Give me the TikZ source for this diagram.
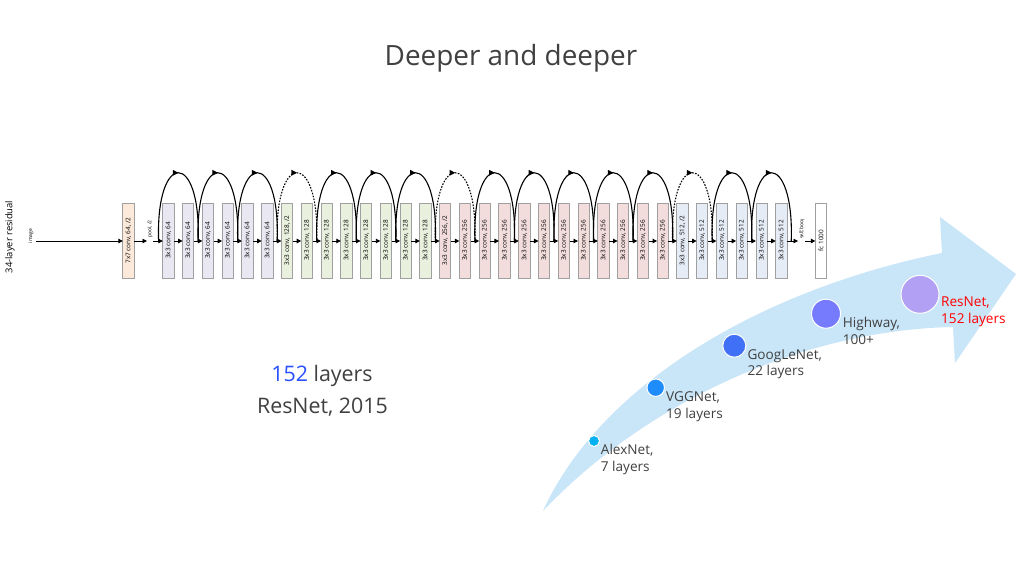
\documentclass[tikz,border=0pt]{standalone}
\usepackage{fontspec}
\setmainfont{Open Sans}
\usetikzlibrary{arrows.meta,decorations.markings,calc}
\definecolor{txtgray}{RGB}{64,64,64}
\definecolor{c64}{RGB}{233,231,241}
\definecolor{c128}{RGB}{233,240,221}
\definecolor{c256}{RGB}{242,221,220}
\definecolor{c512}{RGB}{230,236,245}
\definecolor{c7}{RGB}{252,233,218}
\definecolor{bordergray}{RGB}{160,160,160}
\definecolor{arrowblue}{RGB}{201,229,248}
\definecolor{dAlex}{RGB}{0,176,240}
\definecolor{dVGG}{RGB}{30,140,250}
\definecolor{dGoog}{RGB}{64,112,245}
\definecolor{dHigh}{RGB}{118,122,252}
\definecolor{dRes}{RGB}{178,160,245}
\definecolor{numblue}{RGB}{40,80,255}
\definecolor{resred}{RGB}{255,0,0}
\begin{document}
\begin{tikzpicture}[x=1pt,y=-1pt,
  layer/.style={draw=bordergray, line width=0.9pt, rotate=90, minimum width=75pt, minimum height=11.3pt, inner sep=0pt, font=\fontsize{6.4}{7}\selectfont},
  flow/.style={-{Triangle[length=4.5pt,width=4.5pt]}, line width=0.9pt},
  skipline/.style={line width=1.1pt, postaction={decorate}, decoration={markings, mark=at position 0.5 with {\arrow{Triangle[length=5.5pt,width=5.5pt]}}}},
  tiny/.style={rotate=90, inner sep=0pt, font=\fontsize{5}{6}\selectfont},
  dot/.style={circle, draw=white, line width=1pt, inner sep=0pt},
  lbl/.style={anchor=base west, inner sep=0pt, text=txtgray, font=\fontsize{13.6}{16.7}\selectfont},
  big/.style={anchor=base, inner sep=0pt, text=txtgray, font=\fontsize{21.4}{28}\selectfont},
]
\useasboundingbox (0,0) rectangle (1020,574);
\fill[white] (0,0) rectangle (1020,574);

% title
\node[anchor=base, inner sep=0pt, text=txtgray, font=\fontsize{27.9}{34}\selectfont] (title) at (511,65) {Deeper and deeper};

% big curved arrow
\fill[arrowblue] (543,511) .. controls (600,385) and (760,290) .. (942,253) -- (940,217) -- (1016,274) -- (955,363) -- (953,327) .. controls (800,330) and (643,405) .. (543,511) -- cycle;

% network
\node[rotate=90, inner sep=0pt, font=\fontsize{9.4}{11}\selectfont] (res34) at (10,237) {34-layer residual};
\node[tiny] (img) at (31,236) {image};
\coordinate (src) at (36,241);
\node[layer, fill=c7] (conv7) at (128.5,240.5) {7x7 conv, 64, /2};
\node[tiny] (pool) at (150,229) {pool, /2};
\coordinate (poolin) at (147,241);
\coordinate (poolout) at (153,241);
\foreach \i in {0,...,31}{
  \ifnum\i<6 \def\col{c64}\def\txt{3x3 conv, 64}\else
  \ifnum\i<14 \def\col{c128}\def\txt{3x3 conv, 128}\else
  \ifnum\i<26 \def\col{c256}\def\txt{3x3 conv, 256}\else
  \def\col{c512}\def\txt{3x3 conv, 512}\fi\fi\fi
  \ifnum\i=6 \def\txt{3x3 conv, 128, /2}\fi
  \ifnum\i=14 \def\txt{3x3 conv, 256, /2}\fi
  \ifnum\i=26 \def\txt{3x3 conv, 512, /2}\fi
  \node[layer, fill=\col] (b\i) at ({168.5+19.77*\i},240.5) {\txt};
}
\foreach \i in {0,...,32}{
  \coordinate (g\i) at ({158.6+19.77*\i},241);
}
\node[tiny] (avg) at (802,229) {\scalebox{1}[-1]{avg pool}};
\coordinate (avgin) at (798,241);
\coordinate (avgout) at (805,241);
\node[layer, fill=white] (fc) at (821,240.5) {fc 1000};

\draw[flow] (src) -- ($(conv7.center)+(-5.65,0.5)$);
\draw[flow] ($(conv7.center)+(5.65,0.5)$) -- (poolin);
\draw[flow] (poolout) -- ($(b0.center)+(-5.65,0.5)$);
\foreach \i [evaluate=\i as \j using int(\i+1)] in {0,...,30}{
  \draw[flow] ($(b\i.center)+(5.65,0.5)$) -- ($(b\j.center)+(-5.65,0.5)$);
}
\draw[flow] ($(b31.center)+(5.65,0.5)$) -- (avgin);
\draw[flow] (avgout) -- ($(fc.center)+(-5.65,0.5)$);

\foreach \k [evaluate=\k as \a using int(2*\k), evaluate=\k as \b using int(2*\k+2)] in {0,1,2,4,5,6,8,9,10,11,12,14,15}{
  \draw[skipline] (g\a) .. controls ($(g\a)+(-3,-91)$) and ($(g\b)+(3,-91)$) .. (g\b);
}
\foreach \k [evaluate=\k as \a using int(2*\k), evaluate=\k as \b using int(2*\k+2)] in {3,7,13}{
  \draw[skipline, dash pattern=on 1.6pt off 1.4pt] (g\a) .. controls ($(g\a)+(-3,-91)$) and ($(g\b)+(3,-91)$) .. (g\b);
}

% dots
\node[dot, fill=dAlex, minimum size=11pt] (alex) at (594,441) {};
\node[dot, fill=dVGG, minimum size=17.5pt] (vgg) at (655.7,387.7) {};
\node[dot, fill=dGoog, minimum size=23pt] (goog) at (734.3,345.7) {};
\node[dot, fill=dHigh, minimum size=29pt] (high) at (826,313.7) {};
\node[dot, fill=dRes, minimum size=38pt] (resn) at (920,294.3) {};

\node[lbl] (alexA) at (600.7,454.5) {AlexNet,};
\node[lbl] (alexB) at (600.7,471.2) {7 layers};
\node[lbl] (vggA) at (666,401.7) {VGGNet,};
\node[lbl] (vggB) at (666,418.4) {19 layers};
\node[lbl] (googA) at (747.3,359) {GoogLeNet,};
\node[lbl] (googB) at (747.3,375.7) {22 layers};
\node[lbl] (highA) at (842.7,327.3) {Highway,};
\node[lbl] (highB) at (842.7,344) {100+};
\node[lbl, text=resred] (resA) at (941,306.7) {ResNet,};
\node[lbl, text=resred] (resB) at (941,323.4) {152 layers};

\node[big] (cap1) at (322,381.7) {\textcolor{numblue}{152} layers};
\node[big] (cap2) at (322.5,413.3) {ResNet, 2015};
\end{tikzpicture}
\end{document}
